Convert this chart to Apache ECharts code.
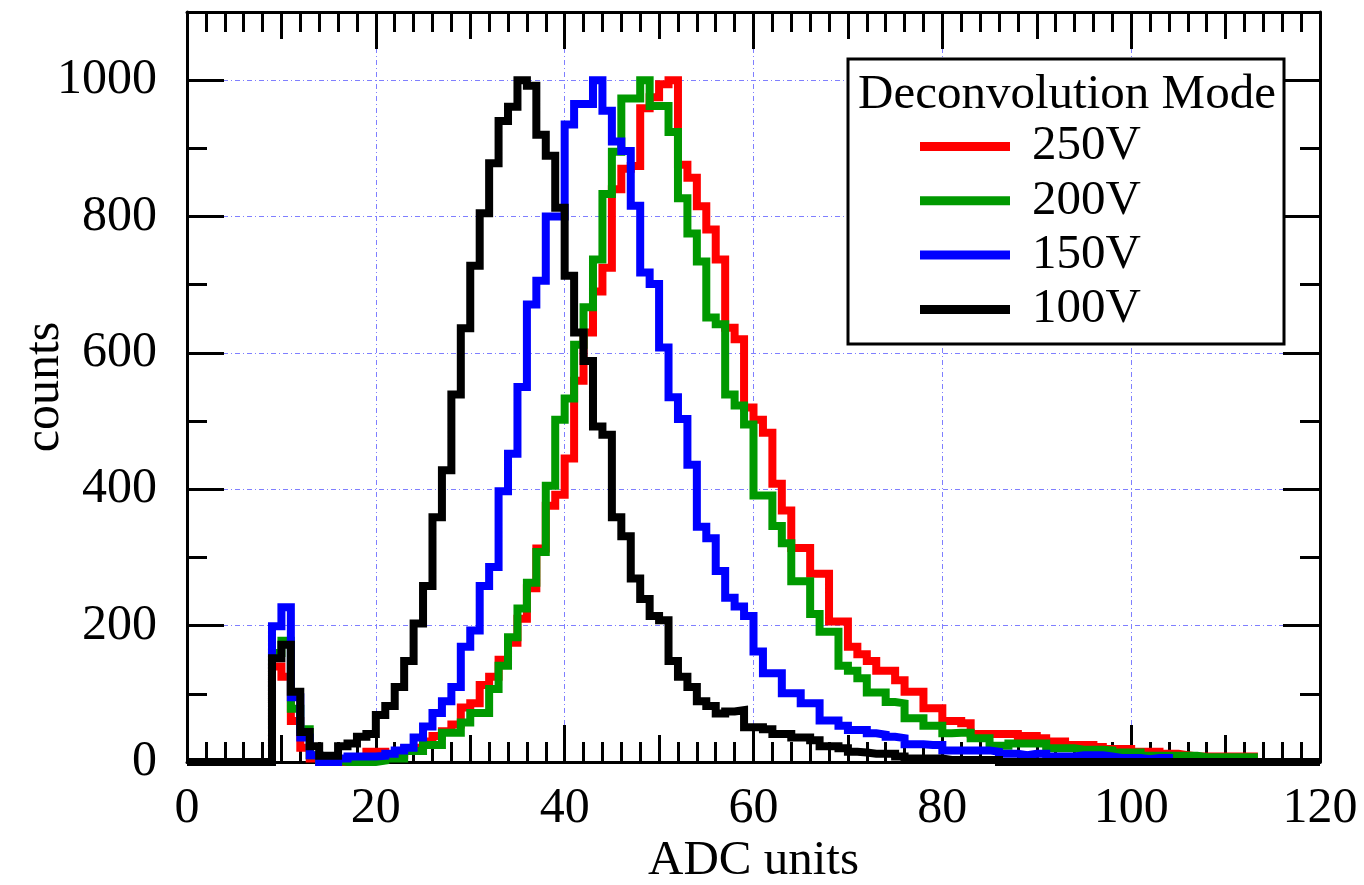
<!DOCTYPE html>
<html><head><meta charset="utf-8">
<script src="https://cdn.jsdelivr.net/npm/echarts@6.0.0/dist/echarts.min.js"></script>
<style>html,body{margin:0;padding:0;background:#fff}#c{width:1364px;height:885px}</style>
</head><body><div id="c"></div>
<script>
const seriesNames = ['250V', '200V', '150V', '100V'];
const seriesColors = ['#ff0000', '#009900', '#0000ff', '#000000'];
const legendTitle = 'Deconvolution Mode';
const xName = 'ADC units';
const yName = 'counts';

// counts per 1-ADC-unit bin, bins 0..119
const red250 = [0,0,0,0,0,0,0,0,0,
140,125,60,21,5,0,0,0,0,5,
15,15,8,10,20,22,30,38,45,55,
80,86,113,125,150,175,210,255,313,376,
392,445,559,630,690,725,840,870,874,959,
975,994,1000,876,857,815,781,737,637,620,
520,502,483,408,369,314,314,276,276,206,
206,169,158,148,134,134,120,103,103,79,
79,60,60,57,41,41,41,41,41,38,
38,35,30,30,25,25,25,22,19,19,
19,15,15,15,12,12,10,8,8,8,
8,8,8,8,0,0,0,0,0,0,0];
const green200 = [0,0,0,0,0,0,0,0,0,
160,178,78,48,10,2,2,0,0,0,
0,2,5,5,16,16,25,25,43,43,
58,72,72,107,141,183,225,263,308,405,
502,533,612,667,737,833,895,973,973,1000,
962,962,924,827,775,734,652,642,539,523,
495,391,391,346,321,265,265,217,191,191,
141,134,123,102,102,88,86,64,64,53,
53,42,43,43,35,35,24,24,27,27,
27,27,20,20,20,18,18,18,17,14,
14,14,9,9,9,9,9,9,7,7,
7,7,7,7,0,0,0,0,0,0,0];
const blue150 = [0,0,0,0,0,0,0,0,0,
199,227,95,36,10,0,0,5,8,8,
8,9,12,17,21,36,52,72,89,110,
169,193,258,286,397,452,550,671,706,800,
800,935,965,965,1000,955,910,896,816,718,
701,608,535,503,436,345,328,280,241,228,
214,162,130,130,101,101,86,86,61,61,
53,47,47,42,40,37,35,26,26,25,
25,17,17,17,17,17,15,12,12,10,
12,12,8,8,8,10,10,10,8,6,
6,6,4,6,6,0,0,0,0,0,
0,0,0,0,0,0,0,0,0,0,0];
const black100 = [0,0,0,0,0,0,0,0,0,
152,172,103,44,23,9,9,23,27,37,
41,69,82,110,148,203,258,359,428,539,
636,728,805,878,940,961,1000,992,920,889,
813,713,630,588,492,480,359,331,269,239,
214,208,148,125,110,89,82,71,74,76,
51,51,48,41,41,36,36,32,23,23,
20,15,14,12,12,12,8,5,5,5,
5,3,3,3,3,3,3,0,0,0,
0,0,0,0,0,0,0,0,0,0,
0,0,0,0,0,0,0,0,0,0,
0,0,0,0,0,0,0,0,0,0,0];
const seriesValues = [red250, green200, blue150, black100];

const X_MIN = 0, X_MAX = 120, Y_MIN = 0, Y_MAX = 1100;
const FONT = "'Liberation Serif', 'Times New Roman', serif";

function toSteps(vals) {
  const d = vals.map((v, i) => [i, v]);
  d.push([vals.length, vals[vals.length - 1]]);
  return d;
}

function xAxisDef(pos, interval, len, main) {
  return {
    type: 'value', position: pos, min: X_MIN, max: X_MAX, interval: interval,
    axisLine: { show: main, onZero: false, lineStyle: { color: '#000', width: 3 } },
    axisTick: { show: true, inside: true, length: len, lineStyle: { color: '#000', width: 3 } },
    axisLabel: { show: main && pos === 'bottom', margin: 22, fontFamily: FONT, fontSize: 50, color: '#000',
                 formatter: v => String(v) },
    splitLine: { show: main && pos === 'bottom', lineStyle: { color: '#7f7fff', width: 1, type: [5, 3, 1, 3] } },
    name: (main && pos === 'bottom') ? xName : '',
    nameLocation: 'middle', nameGap: 75, nameMoveOverlap: false,
    nameTextStyle: { fontFamily: FONT, fontSize: 49, color: '#000' }
  };
}
function yAxisDef(pos, interval, len, main) {
  return {
    type: 'value', position: pos, min: Y_MIN, max: Y_MAX, interval: interval,
    axisLine: { show: main, onZero: false, lineStyle: { color: '#000', width: 3 } },
    axisTick: { show: true, inside: true, length: len, lineStyle: { color: '#000', width: 3 } },
    axisLabel: { show: main && pos === 'left', margin: 30, fontFamily: FONT, fontSize: 50, color: '#000',
                 showMaxLabel: false, formatter: v => String(v) },
    splitLine: { show: main && pos === 'left', lineStyle: { color: '#7f7fff', width: 1, type: [5, 3, 1, 3] } },
    name: (main && pos === 'left') ? yName : '',
    nameLocation: 'middle', nameGap: 117, nameMoveOverlap: false,
    nameTextStyle: { fontFamily: FONT, fontSize: 50, color: '#000' }
  };
}

const chart = echarts.init(document.getElementById('c'), null, { renderer: 'canvas' });
chart.setOption({
  animation: false,
  backgroundColor: '#fff',
  grid: { left: 187, right: 44, top: 12, bottom: 123, containLabel: false, outerBoundsMode: 'none' },
  xAxis: [
    xAxisDef('bottom', 20, 37, true),
    xAxisDef('bottom', 10, 27, false),
    xAxisDef('bottom', 2, 20, false),
    xAxisDef('top', 20, 37, true),
    xAxisDef('top', 10, 27, false),
    xAxisDef('top', 2, 20, false)
  ],
  yAxis: [
    yAxisDef('left', 200, 37, true),
    yAxisDef('left', 100, 20, false),
    yAxisDef('right', 200, 37, true),
    yAxisDef('right', 100, 20, false)
  ],
  legend: {
    data: seriesNames, orient: 'vertical', left: 915, top: 117,
    itemWidth: 90, itemHeight: 9, itemGap: 5.3, icon: 'rect', selectedMode: false,
    textStyle: { fontFamily: FONT, fontSize: 49, color: '#000', lineHeight: 49, padding: [0, 0, 0, 17] },
    z: 10
  },
  graphic: [
    { type: 'rect', z: 5, shape: { x: 848, y: 59, width: 436, height: 285 },
      style: { fill: '#fff', stroke: '#000', lineWidth: 3 } },
    { type: 'text', z: 6, x: 1067, y: 95,
      style: { text: legendTitle, font: "49px 'Liberation Serif', serif", fill: '#000', textAlign: 'center', textVerticalAlign: 'middle' } }
  ],
  series: seriesValues.map((vals, k) => ({
    name: seriesNames[k], type: 'line', step: 'end', xAxisIndex: 0, yAxisIndex: 0,
    data: toSteps(vals), showSymbol: false, symbol: 'none', color: seriesColors[k],
    lineStyle: { width: 8, color: seriesColors[k], join: 'miter', cap: 'butt' },
    z: 2 + k, animation: false
  }))
});
</script>
</body></html>
